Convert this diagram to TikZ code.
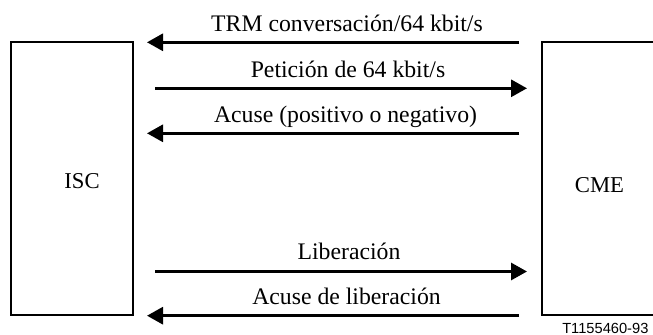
\documentclass[tikz,border=0pt]{standalone}
\usepackage{fontspec}
\setmainfont{Liberation Serif}
\setsansfont{Liberation Sans}
\usepackage{tikz}
\usetikzlibrary{arrows.meta}
\tikzset{
  unit box/.style={draw, line width=1pt, inner sep=0pt, outer sep=0pt, minimum height=204.75pt},
  unit name/.style={anchor=base, inner sep=0pt, font=\fontsize{17}{20}\selectfont},
  msg/.style={line width=2.25pt, -{Triangle[length=12pt, width=12.75pt]}},
  msg text/.style={anchor=base, inner sep=0pt, font=\fontsize{17.8}{20}\selectfont}
}

\begin{document}
\begin{tikzpicture}[x=0.75pt, y=-0.75pt]
    \useasboundingbox (0,0) rectangle (653,335);
    \clip (0,0) rectangle (653,335);
    \node [unit box, minimum width=91.5pt] (isc box) at (72,178.5) {};
    \node [unit box, minimum width=118.5pt] (cme box) at (621,178.5) {};
    \node [unit name] (isc) at (82,188.3) {ISC};
    \node [unit name] (cme) at (599.5,192.3) {CME};

    \coordinate (trm r) at (519,42.3);
    \coordinate (trm l) at (147,42.3);
    \coordinate (pet l) at (155,88.3);
    \coordinate (pet r) at (527,88.3);
    \coordinate (ack r) at (519,133.3);
    \coordinate (ack l) at (147,133.3);
    \coordinate (lib l) at (155,271.5);
    \coordinate (lib r) at (527,271.5);
    \coordinate (libak r) at (519,315.7);
    \coordinate (libak l) at (147,315.7);

    \draw [msg] (trm r) -- (trm l);
    \draw [msg] (pet l) -- (pet r);
    \draw [msg] (ack r) -- (ack l);
    \draw [msg] (lib l) -- (lib r);
    \draw [msg] (libak r) -- (libak l);

    \node [msg text] (trm) at (347,31.7) {TRM conversación/64 kbit/s};
    \node [msg text] (pet) at (348,77.7) {Petición de 64 kbit/s};
    \node [msg text] (ack) at (345.5,122.3) {Acuse (positivo o negativo)};
    \node [msg text] (lib) at (349,259.3) {Liberación};
    \node [msg text] (libak) at (346.5,304) {Acuse de liberación};

    \node [anchor=base west, inner sep=0pt, font=\sffamily\fontsize{11}{12}\selectfont] (ref) at (562,333.2) {T1155460-93};
  \end{tikzpicture}
\end{document}
